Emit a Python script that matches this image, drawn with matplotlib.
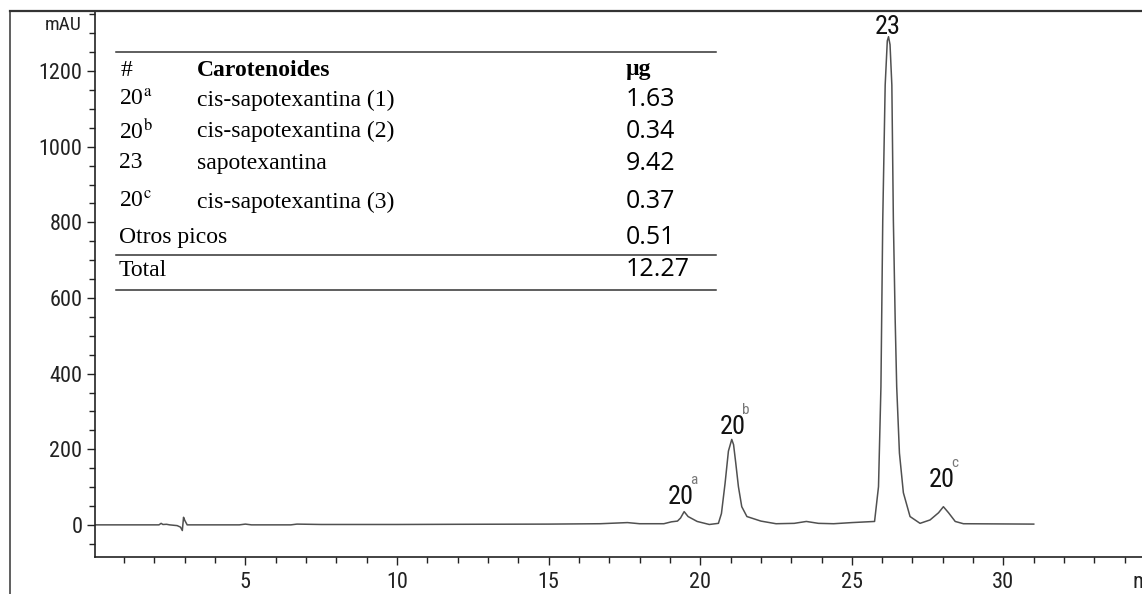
import matplotlib
matplotlib.use("Agg")
import matplotlib.pyplot as plt
from matplotlib.lines import Line2D
from matplotlib.ticker import MultipleLocator
from matplotlib import font_manager

plt.rcParams['mathtext.fontset'] = 'stix'

# pick a narrow sans if one is there
installed = {f.name for f in font_manager.fontManager.ttflist}
narrow = [f for f in ['Liberation Sans Narrow', 'DejaVu Sans Condensed', 'Roboto Condensed',
                      'Roboto'] if f in installed][:1] + ['DejaVu Sans']
serif = ['Liberation Serif', 'DejaVu Serif']
sans = ['Open Sans', 'DejaVu Sans']

# chromatogram (min, mAU)
time_min = [0.05, 1.0, 2.15, 2.22, 2.28, 2.4, 2.5, 2.75, 2.86, 2.92, 2.96, 3.0, 3.08,
            4.8, 5.0, 5.2, 6.5, 6.7, 7.5, 10.0, 12.0, 15.0, 16.7, 17.3, 17.6, 18.0,
            18.8, 19.05, 19.25, 19.35, 19.47, 19.6, 19.9, 20.3, 20.6, 20.7, 20.82,
            20.93, 21.04, 21.1, 21.17, 21.26, 21.37, 21.54, 22.0, 22.5, 23.1, 23.5, 23.9,
            24.4, 25.0, 25.5, 25.75, 25.88, 25.96, 26.02, 26.1, 26.17, 26.21, 26.26,
            26.32, 26.37, 26.43, 26.48, 26.57, 26.7, 26.92, 27.25, 27.58, 27.86, 28.02,
            28.19, 28.41, 28.68, 31.0]
signal_mau = [0, 0, 0, 4, 1, 1.5, 0, -2, -6, -15, 20, 12, 0,
              0, 2, 0, 0, 2, 1, 1, 1.5, 2, 3, 5, 6, 3,
              3, 8, 10, 18, 35, 22, 9, 1, 4, 30, 110,
              195, 226, 212, 165, 101, 48, 22, 10, 3, 4, 9, 4,
              3, 6, 8, 9, 101, 365, 806, 1163, 1280, 1291, 1270,
              1163, 806, 542, 365, 190, 85, 22, 4, 13, 32, 48,
              32, 9, 3, 2]

# peak labels
peak_main = ['20', '20', '23', '20']
peak_sup = ['a', 'b', '', 'c']
peak_label_t = [19.37, 21.08, 26.17, 27.98]
peak_label_v = [74, 259, 1316, 119]

# table
tab_num = ['20', '20', '23', '20', 'Otros picos']
tab_num_sup = ['a', 'b', '', 'c', '']
tab_name = ['cis-sapotexantina (1)', 'cis-sapotexantina (2)', 'sapotexantina',
            'cis-sapotexantina (3)', '']
tab_ug = ['1.63', '0.34', '9.42', '0.37', '0.51']
total_ug = '12.27'

W, H = 1142, 594
fig = plt.figure(figsize=(W / 100, H / 100), dpi=100)
ax = fig.add_axes([95 / W, (H - 557) / H, (W - 95) / W, (557 - 11) / H])

ax.plot(time_min, signal_mau, color='#505050', lw=1.1)
ax.set_xlim(0.04, 34.57)
ax.set_ylim(-85, 1359)

for s in ['top', 'right']:
    ax.spines[s].set_visible(False)
for s in ['left', 'bottom']:
    ax.spines[s].set_color('#222222')
    ax.spines[s].set_linewidth(1.2)

ax.xaxis.set_minor_locator(MultipleLocator(1))
ax.yaxis.set_minor_locator(MultipleLocator(50))
ax.set_xticks([5, 10, 15, 20, 25, 30])
ax.set_yticks([0, 200, 400, 600, 800, 1000, 1200])
ax.tick_params(axis='both', which='major', length=6, width=1, color='#222222',
               labelsize=16, labelcolor='#222222')
ax.tick_params(axis='both', which='minor', length=4, width=1, color='#222222')
ax.tick_params(axis='x', which='major', pad=5)
ax.tick_params(axis='y', which='major', pad=3)
for lab in ax.get_xticklabels() + ax.get_yticklabels():
    lab.set_family(narrow)

# outer frame: left edge and top edge
fig.add_artist(Line2D([9.5 / W, 9.5 / W], [0, (H - 11) / H], color='#444444', lw=1.2))
fig.add_artist(Line2D([9.5 / W, 1], [(H - 11) / H, (H - 11) / H], color='#333333', lw=1.6))

fig.text(82 / W, (H - 25) / H, 'mAU', ha='right', va='center', fontsize=14,
         family=narrow, color='#222222')
fig.text(1132 / W, (H - 582) / H, 'min', ha='left', va='center', fontsize=16,
         family=narrow, color='#222222')

# peak labels
for m, sup, t, v in zip(peak_main, peak_sup, peak_label_t, peak_label_v):
    ax.text(t, v, m, ha='center', va='center', fontsize=19, family=narrow, color='#111111')
    if sup:
        ax.annotate(sup, (t, v), xytext=(9, 12), textcoords='offset points',
                    ha='center', va='center', fontsize=11, family=narrow, color='#777777')

# table
def fx(px):
    return px / W

def fy(py):
    return (H - py) / H

for y in [52, 255, 290]:
    fig.add_artist(Line2D([fx(116), fx(716)], [fy(y), fy(y)], color='#333333', lw=1.1))

fs = 17
row_y = [100, 131, 163, 202, 237]
fig.text(fx(121), fy(70), '#', ha='left', va='center', fontsize=fs, family=serif)
fig.text(fx(197), fy(70), 'Carotenoides', ha='left', va='center', fontsize=fs,
         family=serif, weight='bold')
fig.text(fx(626), fy(70), 'µg', ha='left', va='center', fontsize=fs,
         family=serif, weight='bold')
for num, sup, name, ug, y in zip(tab_num, tab_num_sup, tab_name, tab_ug, row_y):
    label = num + (r'$^{\mathrm{%s}}$' % sup if sup else '')
    fig.text(fx(119), fy(y), label, ha='left', va='center', fontsize=fs, family=serif)
    if name:
        fig.text(fx(197), fy(y), name, ha='left', va='center', fontsize=fs, family=serif)
    fig.text(fx(626), fy(y), ug, ha='left', va='center', fontsize=18, family=sans)
fig.text(fx(119), fy(270), 'Total', ha='left', va='center', fontsize=fs, family=serif)
fig.text(fx(626), fy(270), total_ug, ha='left', va='center', fontsize=18, family=sans)

fig.savefig('out.png', dpi=100)
